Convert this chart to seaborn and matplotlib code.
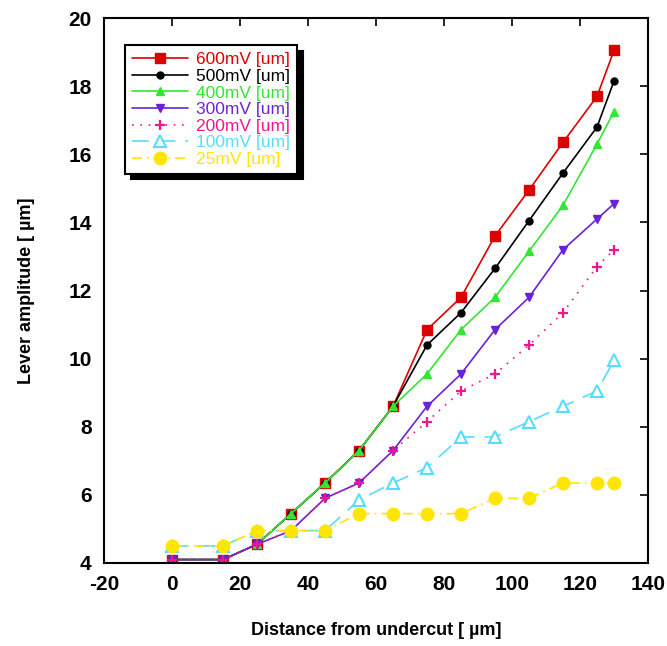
import matplotlib
matplotlib.use("Agg")
import matplotlib.pyplot as plt
import seaborn as sns
import pandas as pd
import numpy as np

distance = [0, 15, 25, 35, 45, 55, 65, 75, 85, 95, 105, 115, 125, 130]
amp_600 = [4.1, 4.1, 4.55, 5.45, 6.35, 7.3, 8.6, 10.85, 11.8, 13.6, 14.95, 16.35, 17.7, 19.05]
amp_500 = [4.1, 4.1, 4.55, 5.45, 6.35, 7.3, 8.6, 10.4, 11.35, 12.65, 14.05, 15.45, 16.8, 18.15]
amp_400 = [4.1, 4.1, 4.55, 5.45, 6.35, 7.3, 8.6, 9.55, 10.85, 11.8, 13.15, 14.5, 16.3, 17.25]
amp_300 = [4.1, 4.1, 4.55, 4.95, 5.9, 6.35, 7.3, 8.6, 9.55, 10.85, 11.8, 13.2, 14.1, 14.55]
amp_200 = [4.1, 4.1, 4.55, 4.95, 5.9, 6.35, 7.3, 8.15, 9.05, 9.55, 10.4, 11.35, 12.7, 13.2]
amp_100 = [4.5, 4.5, 4.95, 4.95, 4.95, 5.85, 6.35, 6.8, 7.7, 7.7, 8.15, 8.6, 9.05, 9.95]
amp_25 = [4.5, 4.5, 4.95, 4.95, 4.95, 5.45, 5.45, 5.45, 5.45, 5.9, 5.9, 6.35, 6.35, 6.35]
labels = ["600mV [um]", "500mV [um]", "400mV [um]", "300mV [um]",
          "200mV [um]", "100mV [um]", "25mV [um]"]
x_ticks = [-20, 0, 20, 40, 60, 80, 100, 120, 140]
y_ticks = [4, 6, 8, 10, 12, 14, 16, 18, 20]

series = [amp_600, amp_500, amp_400, amp_300, amp_200, amp_100, amp_25]
colors = ["#dd0000", "#000000", "#33e633", "#6a22d8", "#f0168c", "#55ddff", "#ffe600"]
markers = ["s", "o", "^", "v", "+", "^", "o"]
msizes = [6.5, 5, 6, 6, 6.5, 8, 9]
mfaces = ["#dd0000", "#000000", "#33e633", "#6a22d8", "#f0168c", "white", "#ffe600"]
medgew = [1, 1, 1, 1, 1.6, 1.5, 1]
lstyles = ["-", "-", "-", "-", (0, (1, 4)), (0, (10, 6)), (0, (6, 3, 1, 3))]

sns.set_style("white")
plt.rcParams["font.family"] = ["Liberation Sans", "DejaVu Sans"]
plt.rcParams["axes.unicode_minus"] = False
plt.rcParams["text.color"] = "black"
plt.rcParams["axes.labelcolor"] = "black"
plt.rcParams["xtick.color"] = "black"
plt.rcParams["ytick.color"] = "black"

fig = plt.figure(figsize=(6.67, 6.46), dpi=100)
ax = fig.add_axes([0.156, 0.1285, 0.8155, 0.8435])

for vals, lab, c, m, ms, mf, mew, ls in zip(series, labels, colors, markers, msizes,
                                            mfaces, medgew, lstyles):
    df = pd.DataFrame({"x": distance, "y": vals})
    sns.lineplot(data=df, x="x", y="y", ax=ax, color=c, marker=m, markersize=ms,
                 markerfacecolor=mf, markeredgecolor=c, markeredgewidth=mew,
                 linestyle=ls, linewidth=1.2, label=lab)

ax.set_xlim(-20, 140)
ax.set_ylim(4, 20)
ax.set_xticks(x_ticks)
ax.set_yticks(y_ticks)
ax.set_xticklabels([str(v) for v in x_ticks])
ax.set_yticklabels([str(v) for v in y_ticks])
ax.tick_params(direction="in", length=6, width=1.2, top=True, right=True,
               labelsize=15, pad=9)
for t in ax.get_xticklabels() + ax.get_yticklabels():
    t.set_fontweight("bold")
for s in ax.spines.values():
    s.set_color("black")
    s.set_linewidth(1.5)

ax.set_xlabel("Distance from undercut [ µm]", fontsize=13, fontweight="bold", labelpad=20)
ax.set_ylabel("Lever amplitude [ µm]", fontsize=13, fontweight="bold", labelpad=24)

leg = ax.legend(loc="upper left", bbox_to_anchor=(0.039, 0.95), fontsize=12.5,
                labelcolor="linecolor", frameon=True, fancybox=False,
                shadow={"color": "black", "alpha": 1, "ox": 4, "oy": -4},
                handlelength=3.2, borderpad=0.4, labelspacing=0.08,
                handletextpad=0.5, borderaxespad=0)
leg.get_frame().set_edgecolor("black")
leg.get_frame().set_linewidth(1.5)
leg.get_frame().set_alpha(1)

fig.savefig("out.png", dpi=100)
